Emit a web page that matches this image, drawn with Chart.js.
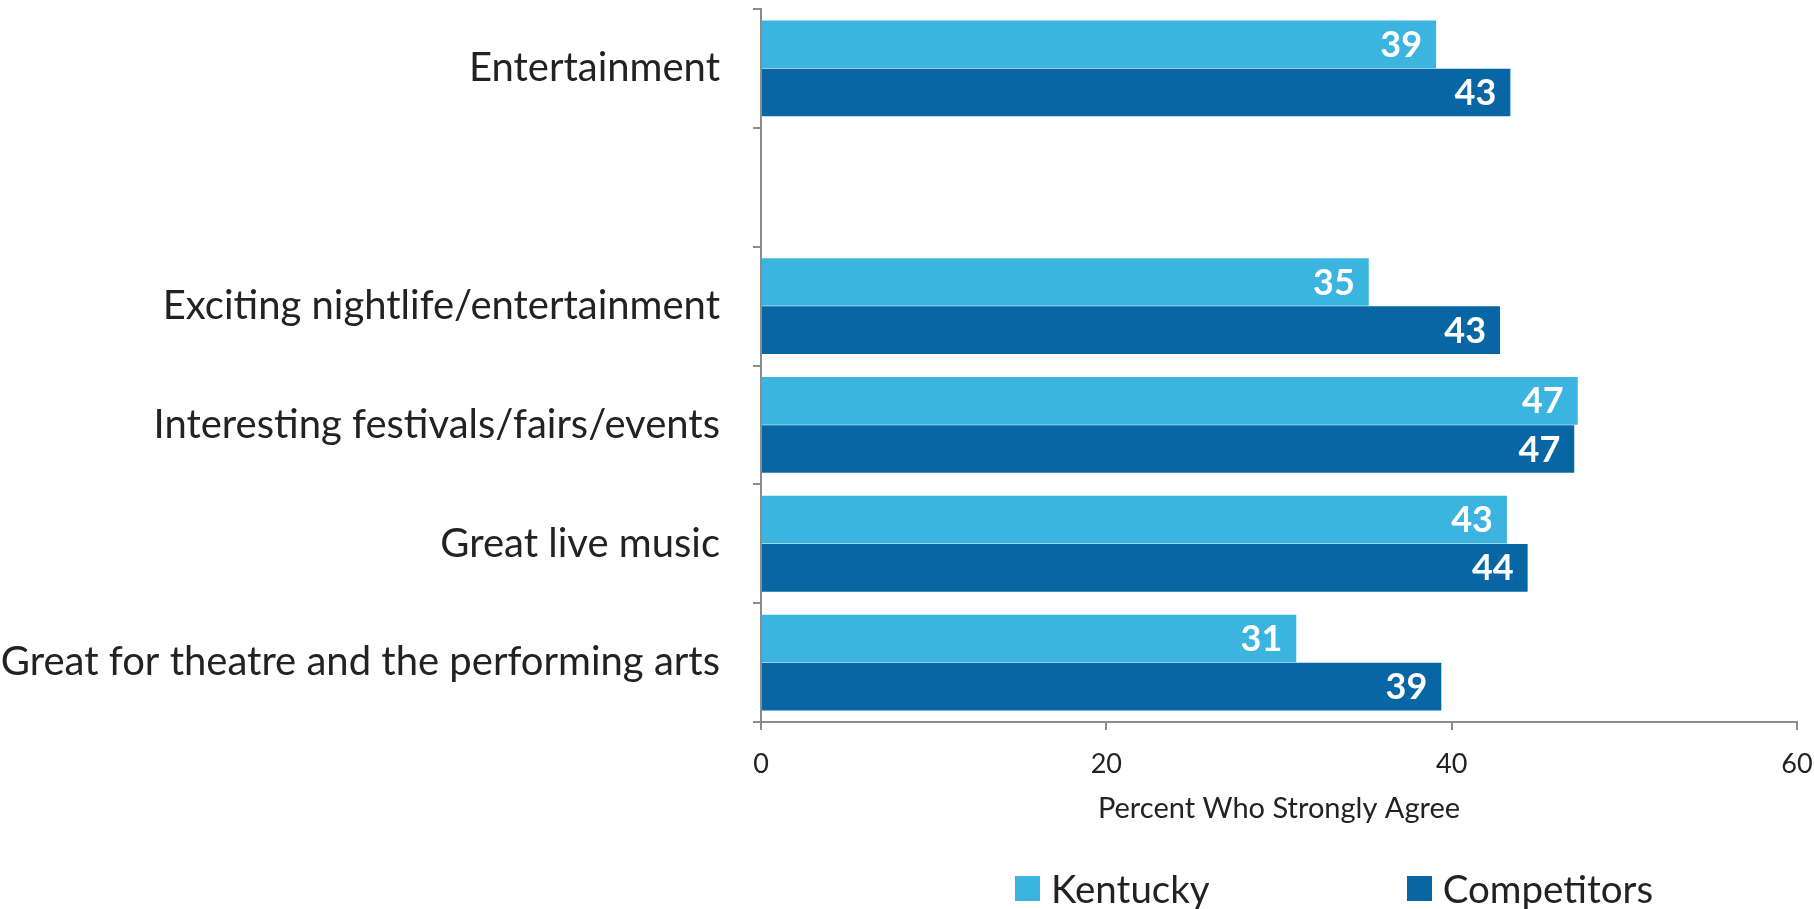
<!DOCTYPE html>
<html>
<head>
<meta charset="utf-8">
<script src="https://cdn.jsdelivr.net/npm/chart.js@4.4.1/dist/chart.umd.min.js"></script>
<style>
    html, body { margin: 0; padding: 0; background: #ffffff; }
    #wrap { position: relative; width: 1814px; height: 909px; }
    #legend {
        position: absolute; left: 1015px; top: 865px; height: 46px;
        display: flex; align-items: center;
        font-family: Lato, "Open Sans", sans-serif; font-size: 38.5px; color: #222222;
    }
    .item { display: flex; align-items: center; }
    .box { width: 25px; height: 25px; margin-right: 11px; }
</style>
</head>
<body>
<div id="wrap">
    <canvas id="chart" width="1814" height="909"></canvas>
    <div id="legend"></div>
</div>
<script>
// datos del grafico
const categorias = [
    'Entertainment',
    '',
    'Exciting nightlife/entertainment',
    'Interesting festivals/fairs/events',
    'Great live music',
    'Great for theatre and the performing arts'
];
const kentucky = [39.1, null, 35.2, 47.3, 43.2, 31.0];
const competitors = [43.4, null, 42.8, 47.1, 44.4, 39.4];
const series = ['Kentucky', 'Competitors'];
const colores = ['#3bb4e0', '#0766a3'];

const fontFamily = 'Lato, "Open Sans", sans-serif';
const axisColor = '#8c8c8c';

// etiquetas blancas al final de cada barra
const barLabels = {
    id: 'barLabels',
    afterDatasetsDraw(chart) {
        const ctx = chart.ctx;
        ctx.save();
        ctx.font = 'bold 36px ' + fontFamily;
        ctx.fillStyle = '#ffffff';
        ctx.textAlign = 'right';
        ctx.textBaseline = 'middle';
        chart.data.datasets.forEach((ds, i) => {
            chart.getDatasetMeta(i).data.forEach((bar, j) => {
                const v = ds.data[j];
                if (v === null) return;
                ctx.fillText(Math.round(v), bar.x - 14, bar.y + 1);
            });
        });
        ctx.restore();
    }
};

const ctx = document.getElementById('chart');
const chart = new Chart(ctx, {
    type: 'bar',
    data: {
        labels: categorias,
        datasets: [{
            label: series[0],
            data: kentucky,
            backgroundColor: colores[0],
            categoryPercentage: 0.81,
            barPercentage: 0.99
        }, {
            label: series[1],
            data: competitors,
            backgroundColor: colores[1],
            categoryPercentage: 0.81,
            barPercentage: 0.99
        }]
    },
    options: {
        indexAxis: 'y',
        responsive: false,
        animation: false,
        layout: { padding: { top: 9, right: 17, bottom: 79, left: 0 } },
        plugins: {
            legend: { display: false },
            tooltip: { enabled: false }
        },
        scales: {
            x: {
                min: 0,
                max: 60,
                // alto fijo del eje, sin relleno extra a los lados
                afterFit(scale) {
                    scale.height = 108;
                    scale.paddingLeft = 0;
                    scale.paddingRight = 0;
                },
                ticks: {
                    stepSize: 20,
                    padding: 18,
                    color: '#222222',
                    font: { family: fontFamily, size: 27 }
                },
                grid: { drawOnChartArea: false, tickLength: 8, color: axisColor, lineWidth: 2 },
                border: { color: axisColor, width: 2 },
                title: {
                    display: true,
                    text: 'Percent Who Strongly Agree',
                    color: '#222222',
                    padding: { top: 0, bottom: 4 },
                    font: { family: fontFamily, size: 29 }
                }
            },
            y: {
                afterFit(scale) {
                    scale.width = 761;
                    scale.paddingTop = 0;
                    scale.paddingBottom = 0;
                },
                ticks: {
                    padding: 33,
                    color: '#222222',
                    font: { family: fontFamily, size: 40 }
                },
                grid: { drawOnChartArea: false, tickLength: 8, color: axisColor, lineWidth: 2 },
                border: { color: axisColor, width: 2 }
            }
        }
    },
    plugins: [barLabels]
});

// leyenda en html
const legend = document.getElementById('legend');
series.forEach((name, i) => {
    const item = document.createElement('div');
    item.className = 'item';
    if (i > 0) item.style.marginLeft = '197px';
    const box = document.createElement('div');
    box.className = 'box';
    box.style.background = colores[i];
    const txt = document.createElement('span');
    txt.textContent = name;
    item.appendChild(box);
    item.appendChild(txt);
    legend.appendChild(item);
});
</script>
</body>
</html>
